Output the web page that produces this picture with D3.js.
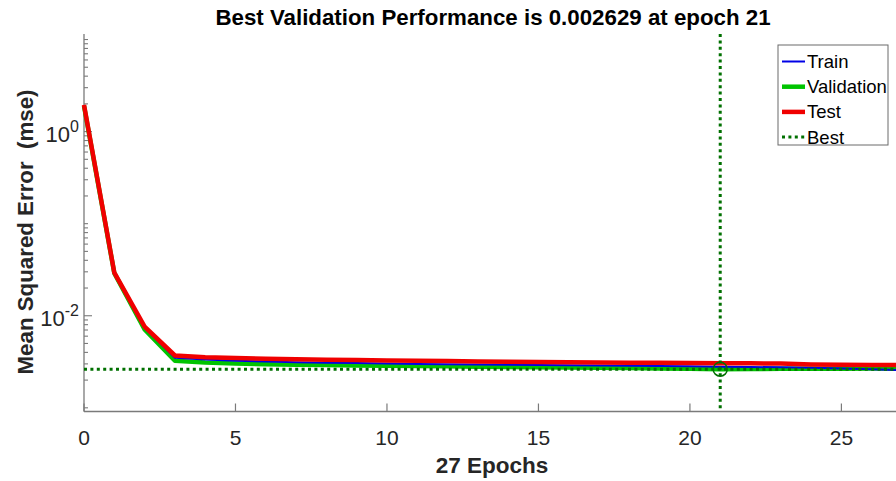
<!DOCTYPE html>
<html>
<head>
<meta charset="utf-8">
<script src="https://cdn.jsdelivr.net/npm/d3@7/dist/d3.min.js"></script>
<style>
  html, body { margin: 0; padding: 0; background: #fff; }
  svg { display: block; font-family: "Liberation Sans", Arial, sans-serif; }
</style>
</head>
<body>
<svg id="chart" width="896" height="481"></svg>
<script>
// ---- data ----
const epochs = [0,1,2,3,4,5,6,7,8,9,10,11,12,13,14,15,16,17,18,19,20,21,22,23,24,25,26,27];
const trainPerf = [1.9,0.0292,0.0074,0.0035,0.00335,0.00325,0.00318,0.00313,0.00309,0.00306,0.00303,0.00300,0.00298,0.00296,0.00294,0.00292,0.00290,0.00288,0.00286,0.00284,0.00282,0.00280,0.00278,0.00275,0.00272,0.00268,0.00262,0.00257];
const valPerf   = [1.9,0.0290,0.0071,0.00325,0.00310,0.00303,0.00298,0.00294,0.00291,0.00288,0.00286,0.00284,0.00282,0.00280,0.00278,0.00276,0.00274,0.00272,0.00270,0.00268,0.00266,0.002629,0.00264,0.00265,0.00266,0.00266,0.00267,0.00268];
const testPerf  = [1.95,0.0294,0.0076,0.0037,0.00355,0.00348,0.00342,0.00337,0.00333,0.00330,0.00327,0.00324,0.00322,0.00319,0.00317,0.00315,0.00313,0.00311,0.00309,0.00308,0.00306,0.00305,0.00304,0.00302,0.00295,0.00293,0.00292,0.00291];
const bestEpoch = 21;
const bestPerf = 0.002629;
const xTickValues = [0,5,10,15,20,25];
const yMajorTicks = [1e-2, 1e0];
const yMajorExponents = ["-2", "0"];
const legendLabels = ["Train","Validation","Test","Best"];
const titleText = "Best Validation Performance is 0.002629 at epoch 21";
const xLabelText = "27 Epochs";
const yLabelText = "Mean Squared Error  (mse)";

// ---- layout ----
const svg = d3.select("#chart");
const pLeft = 84, pRight = 902, pTop = 34, pBottom = 411.5;
const x = d3.scaleLinear().domain([0, 27]).range([pLeft, pRight]);
const y = d3.scaleLog().domain([Math.pow(10,-3.04), Math.pow(10,1.06)]).range([pBottom, pTop]);

const axisColor = "#7a7a7a";
const tickTextColor = "#262626";
const colTrain = "#0000e6", colVal = "#00c400", colTest = "#f00000", colBest = "#007000";

// title
svg.append("text").attr("x", 493).attr("y", 25).attr("text-anchor","middle")
  .attr("font-weight","bold").attr("font-size", 22.3).attr("fill","#000").text(titleText);

// x label
svg.append("text").attr("x", 492).attr("y", 473).attr("text-anchor","middle")
  .attr("font-weight","bold").attr("font-size", 22.5).attr("fill","#262626").text(xLabelText);

// y label
svg.append("text").attr("transform","translate(33,232) rotate(-90)").attr("text-anchor","middle")
  .attr("font-weight","bold").attr("font-size", 22.3).attr("fill","#262626")
  .style("white-space","pre").text(yLabelText);

// axes lines
const g = svg.append("g");
g.append("line").attr("x1", pLeft).attr("x2", pLeft).attr("y1", pTop).attr("y2", pBottom)
  .attr("stroke", axisColor).attr("stroke-width", 1.3);
g.append("line").attr("x1", pLeft).attr("x2", 896).attr("y1", pBottom).attr("y2", pBottom)
  .attr("stroke", axisColor).attr("stroke-width", 1.3);

// x ticks (inward)
xTickValues.forEach(v => {
  g.append("line").attr("x1", x(v)).attr("x2", x(v)).attr("y1", pBottom).attr("y2", pBottom - 8)
    .attr("stroke", axisColor).attr("stroke-width", 1.2);
  g.append("text").attr("x", x(v)).attr("y", 445).attr("text-anchor","middle")
    .attr("font-size", 21).attr("fill", tickTextColor).text(v);
});

// y ticks: minor at k*10^n
const [d0, d1] = y.domain();
for (let n = -4; n <= 2; n++) {
  for (let k = 1; k <= 9; k++) {
    const v = k * Math.pow(10, n);
    if (v < d0 || v > d1) continue;
    const isMajor = yMajorTicks.some(m => Math.abs(m - v) / m < 1e-9);
    g.append("line").attr("x1", pLeft).attr("x2", pLeft + (isMajor ? 8 : 4))
      .attr("y1", y(v)).attr("y2", y(v)).attr("stroke", axisColor).attr("stroke-width", 1.1);
  }
}
yMajorTicks.forEach((v, i) => {
  const t = g.append("text").attr("x", 79).attr("y", y(v) + 10).attr("text-anchor","end")
    .attr("font-size", 22).attr("fill", tickTextColor);
  t.append("tspan").text("10");
  t.append("tspan").attr("dy", -10).attr("font-size", 16).text(yMajorExponents[i]);
});

// lines
const line = d3.line().x(d => x(d[0])).y(d => y(d[1]));
const plot = svg.append("g");
function drawSeries(vals, color, w) {
  plot.append("path").datum(epochs.map((e, i) => [e, vals[i]]))
    .attr("d", line).attr("fill","none").attr("stroke", color)
    .attr("stroke-width", w).attr("stroke-linejoin","round");
}
drawSeries(valPerf, colVal, 4.5);
drawSeries(trainPerf, colTrain, 2);
drawSeries(testPerf, colTest, 4.5);

// best lines
plot.append("line").attr("x1", pLeft).attr("x2", 896).attr("y1", y(bestPerf)).attr("y2", y(bestPerf))
  .attr("stroke", colBest).attr("stroke-width", 3).attr("stroke-dasharray","3,3.4");
plot.append("line").attr("x1", x(bestEpoch)).attr("x2", x(bestEpoch)).attr("y1", pTop).attr("y2", pBottom)
  .attr("stroke", colBest).attr("stroke-width", 3).attr("stroke-dasharray","3,3.4");
plot.append("circle").attr("cx", x(bestEpoch)).attr("cy", y(bestPerf)).attr("r", 7)
  .attr("fill","none").attr("stroke", colBest).attr("stroke-width", 1.5);

// legend
const lg = svg.append("g");
lg.append("rect").attr("x", 778).attr("y", 45).attr("width", 110).attr("height", 100)
  .attr("fill","#fff").attr("stroke","#6a6a6a").attr("stroke-width", 1);
const legendStyles = [
  {c: colTrain, w: 2, dash: null},
  {c: colVal, w: 4.5, dash: null},
  {c: colTest, w: 4.5, dash: null},
  {c: colBest, w: 3, dash: "3,3.4"}
];
legendLabels.forEach((lab, i) => {
  const cy = 61.5 + i * 25.2;
  const s = legendStyles[i];
  const l = lg.append("line").attr("x1", 782).attr("x2", 805).attr("y1", cy).attr("y2", cy)
    .attr("stroke", s.c).attr("stroke-width", s.w);
  if (s.dash) l.attr("stroke-dasharray", s.dash);
  lg.append("text").attr("x", 807).attr("y", cy + 6.5).attr("font-size", 18.5)
    .attr("fill","#000").text(lab);
});
</script>
</body>
</html>
